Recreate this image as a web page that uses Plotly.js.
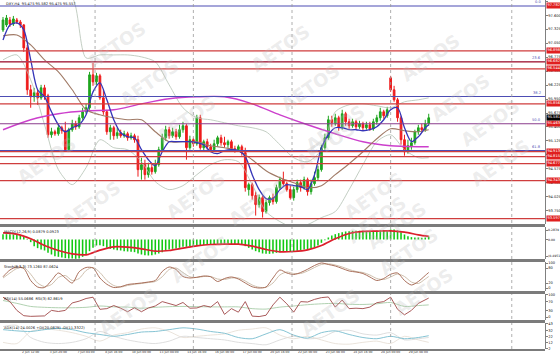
<!DOCTYPE html>
<html><head><meta charset="utf-8">
<script src="https://cdn.plot.ly/plotly-3.0.1.min.js"></script>
<style>html,body{margin:0;padding:0;background:#fff}#c{width:560px;height:357px}</style>
</head><body><div id="c"></div>
<script>
// ---------- DATA ----------
const title = "DXY,H4  95.475 95.582 95.475 95.557";
const openP = [97.310,97.409,97.507,97.428,97.507,97.468,97.409,96.957,96.132,95.994,
 96.073,95.974,96.171,96.014,95.247,95.306,95.267,95.385,95.326,94.953,
 95.346,95.463,95.404,95.581,95.699,95.778,96.426,96.289,96.407,95.974,
 95.699,95.306,95.385,95.228,95.287,95.228,95.267,95.188,95.228,95.149,
 94.560,94.658,94.462,94.599,94.520,94.658,94.953,95.188,95.346,95.228,
 95.306,95.208,95.346,95.424,94.992,95.149,95.070,95.581,94.992,95.110,
 95.011,94.953,95.070,95.188,95.090,95.051,95.110,94.972,94.953,95.011,
 94.894,94.167,94.265,94.049,93.872,94.009,93.734,93.911,94.009,93.931,
 94.206,94.363,94.284,94.167,94.009,94.167,94.304,94.206,94.363,94.127,
 94.284,94.403,94.560,94.992,95.188,95.542,95.463,95.581,95.385,95.660,
 95.503,95.424,95.503,95.404,95.463,95.385,95.444,95.365,95.503,95.581,
 95.699,95.621,96.367,96.132,95.935,95.581,95.149,94.913,95.011,95.090,
 95.306,95.385,95.346,95.463];
const highP = [97.566,97.605,97.566,97.586,97.546,97.507,97.428,97.016,96.230,96.171,
 96.132,96.230,96.230,96.053,95.385,95.346,95.463,95.424,95.503,95.385,
 95.542,95.522,95.640,95.778,95.856,96.485,96.662,96.466,96.446,96.132,
 95.739,95.444,95.424,95.385,95.346,95.326,95.306,95.287,95.267,95.228,
 94.795,94.756,94.697,94.677,94.756,95.011,95.267,95.424,95.404,95.385,
 95.365,95.444,95.503,95.463,95.228,95.188,95.640,95.640,95.149,95.169,
 95.070,95.149,95.228,95.247,95.208,95.149,95.149,95.031,95.051,95.051,
 94.992,94.304,94.304,94.127,94.069,94.049,93.970,94.049,94.088,94.265,
 94.422,94.520,94.324,94.245,94.226,94.363,94.363,94.422,94.403,94.363,
 94.520,94.638,95.051,95.267,95.621,95.621,95.660,95.621,95.739,95.699,
 95.562,95.562,95.542,95.522,95.503,95.503,95.503,95.562,95.640,95.778,
 95.739,95.797,96.407,96.210,95.974,95.621,95.247,95.149,95.188,95.346,
 95.444,95.463,95.542,95.660];
const lowP = [97.271,97.369,97.369,97.389,97.428,97.350,96.878,96.033,95.778,95.896,
 95.837,95.935,95.935,95.188,95.188,95.228,95.228,95.267,94.913,94.913,
 95.306,95.346,95.365,95.542,95.660,95.739,96.210,96.230,95.935,95.640,
 95.247,95.149,95.149,95.169,95.188,95.188,95.129,95.149,95.090,94.422,
 94.363,94.363,94.403,94.462,94.481,94.618,94.913,95.129,95.169,95.188,
 95.149,95.169,95.287,94.756,94.953,95.011,95.031,94.953,94.933,94.953,
 94.913,94.913,95.011,95.031,94.992,94.992,94.933,94.894,94.913,94.835,
 94.127,94.049,93.970,93.656,93.813,93.616,93.695,93.852,93.872,93.891,
 94.167,94.245,94.127,93.970,93.950,94.108,94.127,94.167,94.049,94.069,
 94.245,94.343,94.520,94.953,95.149,95.404,95.424,95.326,95.346,95.424,
 95.365,95.385,95.346,95.365,95.326,95.346,95.326,95.326,95.444,95.522,
 95.562,95.581,96.092,95.896,95.503,95.051,94.835,94.874,94.953,95.051,
 95.247,95.287,95.306,95.424];
const closeP = [97.507,97.546,97.428,97.527,97.468,97.409,96.957,96.132,95.994,96.073,
 95.974,96.171,96.014,95.247,95.306,95.267,95.385,95.326,94.953,95.346,
 95.463,95.404,95.581,95.699,95.778,96.426,96.289,96.407,95.974,95.699,
 95.306,95.385,95.228,95.287,95.228,95.267,95.188,95.228,95.149,94.560,
 94.658,94.462,94.599,94.520,94.658,94.953,95.188,95.346,95.228,95.306,
 95.208,95.346,95.424,94.992,95.149,95.070,95.581,94.992,95.110,95.011,
 94.953,95.070,95.188,95.090,95.051,95.110,94.972,94.953,95.011,94.894,
 94.206,94.265,94.049,93.872,94.009,93.734,93.911,94.009,93.931,94.206,
 94.363,94.284,94.167,94.009,94.167,94.304,94.206,94.363,94.127,94.284,
 94.403,94.560,94.992,95.188,95.542,95.463,95.581,95.385,95.660,95.503,
 95.424,95.503,95.404,95.463,95.385,95.444,95.365,95.503,95.581,95.699,
 95.621,95.739,96.132,95.935,95.581,95.149,94.913,95.031,95.090,95.306,
 95.385,95.346,95.463,95.581];

// sample bar positions of the indicator lines
const ev2 = [0,2,4,6,8,10,12,14,16,18,20,22,24,26,28,30,32,34,36,38,40,42,44,46,48,50,52,54,56,58,60,62,64,66,68,70,72,74,76,78,80,82,84,86,88,90,92,94,96,98,100,102,104,106,108,110,112,114,116,118,120,122,123];
const ev4 = [0,4,8,12,16,20,24,28,32,36,40,44,48,52,56,60,64,68,72,76,80,84,88,92,96,100,104,108,112,116,120,123];
const ev8 = [0,8,16,24,32,40,48,56,64,72,80,88,96,104,112,120,123];

const maFast = [97.114,97.409,97.448,97.311,96.721,96.132,95.994,95.699,95.444,95.306,
 95.385,95.444,95.640,96.092,96.269,95.935,95.542,95.287,95.208,95.188,
 94.953,94.756,94.638,94.913,95.110,95.110,95.110,95.110,95.090,95.051,
 94.913,94.874,94.933,94.953,94.933,94.815,94.461,94.167,93.990,93.990,
 94.167,94.265,94.245,94.226,94.167,94.461,94.992,95.247,95.385,95.385,
 95.346,95.346,95.326,95.346,95.404,95.542,95.739,95.778,95.385,95.110,
 95.208,95.385,95.444];
const maMid = [97.193,97.212,97.016,96.721,96.485,96.132,95.739,95.640,95.581,95.542,95.542,95.306,95.110,95.110,95.110,95.031,94.992,94.933,94.756,94.540,94.402,94.304,94.206,94.245,94.461,94.677,94.913,95.169,95.365,95.326,95.306,95.346];
const maSlow = [95.346,95.542,95.660,95.719,95.739,95.856,95.955,95.994,95.994,95.856,95.640,95.444,95.267,95.110,95.031,95.011,95.011];
const bbUpper = [98.097,98.057,97.998,97.998,97.959,97.939,96.760,96.819,96.819,96.819,96.780,96.682,96.230,95.778,95.581,95.542,95.483,95.424,95.385,95.306,95.051,94.795,94.717,94.953,95.699,95.837,95.856,95.817,95.778,95.896,95.935,95.974];
const bbLower = [96.721,96.819,96.328,95.444,94.560,94.265,94.599,95.149,94.992,94.953,94.717,94.324,94.167,94.245,94.461,94.658,94.756,94.717,94.265,93.734,93.538,93.420,93.479,93.616,93.734,94.167,94.658,95.110,95.247,94.953,94.795,94.795];

const redLevels = [96.898,96.682,96.544,95.856,94.913,94.815,94.677,94.343,93.597];
const fibNames = ["0.0","23.6","38.2","50.0","61.8"];
const fibLevels = [97.782,96.687,96.000,95.463,94.935];

const macdHist = [0.16,0.16,0.16,0.15,0.15,0.14,0.10,0.02,-0.08,
 -0.20,-0.26,-0.30,-0.33,-0.40,-0.45,-0.50,-0.52,-0.54,
 -0.56,-0.57,-0.57,-0.58,-0.57,-0.52,-0.45,-0.35,-0.25,-0.18,-0.17,
 -0.20,-0.25,-0.28,-0.30,-0.32,-0.33,-0.35,-0.36,-0.37,-0.38,
 -0.42,-0.45,-0.47,-0.48,-0.47,-0.45,
 -0.42,-0.38,-0.33,-0.30,-0.28,-0.27,-0.25,-0.22,-0.22,-0.20,
 -0.20,-0.18,-0.17,-0.17,-0.16,-0.16,-0.15,-0.14,-0.14,-0.13,-0.13,-0.14,-0.14,-0.15,
 -0.16,-0.20,-0.25,-0.30,-0.35,-0.38,-0.42,-0.43,-0.43,-0.42,-0.40,-0.38,
 -0.37,-0.36,-0.36,-0.35,-0.34,-0.32,-0.30,-0.29,-0.27,-0.24,
 -0.18,-0.10,-0.02,0.06,
 0.12,0.16,0.19,0.22,0.24,0.25,0.26,0.26,0.26,0.26,0.25,0.25,0.25,0.26,0.27,0.27,0.27,
 0.30,0.30,0.27,0.22,
 0.15,0.10,0.07,0.06,0.06,0.05,0.06,0.088];
const macdSignal = [0.20,0.16,0.02,-0.18,-0.33,-0.43,-0.46,-0.32,-0.22,-0.23,-0.28,-0.35,-0.33,-0.26,-0.19,-0.15,-0.14,-0.14,-0.20,-0.30,-0.37,-0.36,-0.31,-0.18,0.02,0.18,0.24,0.25,0.26,0.22,0.14,0.092];

const stochMain = [45,72,84,78,30,4,2,30,60,40, 20,65,82,80,40,15,2,5,14,17, 20,24,30,66,84,74,46,40,43,48, 45,26,38,44,36,20,5,0,4,40, 72,60,54,62,75,90,100,94,88,78, 68,64,58,44,30,38,55,60,30,12, 26,50,62];
const stochSig = [40,60,78,82,55,20,6,14,42,50, 30,38,70,82,62,30,10,4,10,15, 18,22,26,45,74,80,62,45,42,46, 46,36,34,40,40,28,12,3,3,20, 52,64,58,58,68,82,94,97,92,84, 74,66,62,52,38,34,44,56,46,24, 18,36,46];
const rsi3 = [90,70,30,6,3,3,5,30,25,30, 64,72,84,90,35,38,52,40,24,42, 24,41,50,70,62,52,66,40,41,52, 45,70,12,38,22,70,4,2,8,55, 90,60,22,70,68,80,88,91,45,77, 38,40,38,45,65,70,90,35,10,30, 62,80,86];
const rsi14 = [75,62,48,44,42,42,44,50,46,45,40,44,47,48,47,46,46,46,38,36,45,50,56,60,62,58,57,60,66,48,52,55];
const adx = [33,31,30,33,35,33,28,25,22,25,29,30,33,36,34,30,27,20,18,26,33,24,19,28,31,25,20,18,22,18,20,23];
const diPlus = [38,40,20,12,10,12,18,30,22,16,12,10,14,22,20,18,16,12,10,8,16,22,18,20,30,32,26,24,28,16,18,20];
const diMinus = [12,10,30,34,32,28,22,14,24,28,34,36,30,20,22,24,26,32,34,36,24,18,22,16,10,9,12,14,10,22,16,12];

const tickBars = [0,8,16,24,32,40,48,56,64,72,80,88,96,104,112,120];
const tickLabels = ["1 Jun 2016","2 Jun 12:00","3 Jun 20:00","7 Jun 04:00","8 Jun 16:00","10 Jun 00:00","13 Jun 08:00","14 Jun 16:00","16 Jun 00:00","17 Jun 08:00","20 Jun 16:00","22 Jun 00:00","23 Jun 08:00","24 Jun 16:00","28 Jun 00:00","29 Jun 08:00"];
const gridBars = [26.6,55,83.5,112,147];

const panelTitles = ["MACD(12,26,9) 0.0879 0.0923","Stoch(8,3,3) 73.1260 87.0624","RSI(14) 55.0686  RSI(3) 82.8619","ADX(14) 24.0026 +DI(20.0879) -DI(11.3322)"];

// ---------- LAYOUT GEOMETRY ----------
const idx = openP.map((_, i) => i);
const PH = 349; // plot height in px (t=0,b=8)
const fy = y => (PH - y) / PH;
const dom = {
  main:[fy(224),1], macd:[fy(259),fy(227)], stoch:[fy(291),fy(262)], rsi:[fy(320),fy(294)], adx:[0,fy(323)]
};
const sepPx = [[224,227],[259,262],[291,294],[320,323],[349,351]];
const wm = [[80,15],[113,52],[280,18],[310,57],[335,98],[467,27],[497,67],[527,123],[537,163],[10,160],[55,205],[195,195],[258,203],[325,115],[410,195],[433,225],[200,290],[413,250],[445,282],[460,322],[92,342],[330,343],[150,120]];

const FONT = 'DejaVu Sans, Arial, sans-serif';
const tf = {family:FONT, size:3.6, color:'#111'};

const traces = [];
traces.push({type:'candlestick', x:idx, open:openP, high:highP, low:lowP, close:closeP,
  xaxis:'x', yaxis:'y', whiskerwidth:0,
  increasing:{line:{color:'#1fa51f', width:1}, fillcolor:'#1fa51f'},
  decreasing:{line:{color:'#ee1c1c', width:1}, fillcolor:'#ee1c1c'}, hoverinfo:'skip'});
const ln = (x, y, ax, color, w, shape) => ({type:'scatter', mode:'lines', x, y, yaxis:ax, xaxis:'x',
  line:{color, width:w, shape:shape||'spline', smoothing:0.8}, hoverinfo:'skip'});
traces.push(ln(ev4, bbUpper, 'y', '#b4c2b4', 0.8));
traces.push(ln(ev4, bbLower, 'y', '#b4c2b4', 0.8));
traces.push(ln(ev8, maSlow, 'y', '#cc3fcc', 1.4));
traces.push(ln(ev4, maMid, 'y', '#a07a66', 1.1));
traces.push(ln(ev2, maFast, 'y', '#3535b8', 1.3));

traces.push({type:'bar', x:idx, y:macdHist, yaxis:'y2', xaxis:'x', width:0.45,
  marker:{color:'#12c812', line:{width:0}}, hoverinfo:'skip'});
traces.push(ln(ev4, macdSignal, 'y2', '#dd1f2c', 1.7));

traces.push(ln(ev2, stochSig, 'y3', '#c8b8a4', 0.9));
traces.push(ln(ev2, stochMain, 'y3', '#a0604a', 0.9));

traces.push(ln(ev4, rsi14, 'y4', '#a8cca8', 0.9));
traces.push(ln(ev2, rsi3, 'y4', '#a04848', 0.9, 'linear'));

traces.push(ln(ev4, diPlus, 'y5', '#d6d6d6', 0.8));
traces.push(ln(ev4, diMinus, 'y5', '#e4dcd2', 0.8));
traces.push(ln(ev4, adx, 'y5', '#86c4d4', 1.0));

const shapes = [];
fibLevels.forEach((v, k) => shapes.push({type:'line', xref:'paper', x0:0, x1:1, yref:'y', y0:v, y1:v,
  line:{color: k===3 ? '#8a3c8c' : '#4d4db4', width:1.1}}));
redLevels.forEach(v => shapes.push({type:'line', xref:'paper', x0:0, x1:1, yref:'y', y0:v, y1:v,
  line:{color:'#cf3d3d', width:1.3}}));
gridBars.forEach(b => shapes.push({type:'line', xref:'x', x0:b, x1:b, yref:'paper', y0:0, y1:1,
  line:{color:'#9a9a9a', width:0.8, dash:'dot'}}));
sepPx.forEach(s => shapes.push({type:'rect', xref:'paper', x0:0, x1:1, yref:'paper', y0:fy(s[1]), y1:fy(s[0]),
  fillcolor:'#7b7b7b', line:{width:0}}));

const ann = [];
wm.forEach(p => ann.push({xref:'paper', yref:'paper', x:p[0]/545, y:fy(p[1]), text:'AETOS', showarrow:false,
  textangle:-35, font:{family:FONT, size:18, color:'rgba(185,185,185,0.27)', weight:'bold'}}));
ann.push({xref:'paper', yref:'paper', x:0.008, y:1, xanchor:'left', yanchor:'top', text:title, showarrow:false, font:tf});
const tops = [dom.macd[1], dom.stoch[1], dom.rsi[1], dom.adx[1]];
panelTitles.forEach((t, k) => ann.push({xref:'paper', yref:'paper', x:0.004, y:tops[k]-0.003, xanchor:'left', yanchor:'top',
  text:t, showarrow:false, font:tf}));
fibLevels.forEach((v, k) => ann.push({xref:'paper', yref:'y', x:0.997, y:v, xanchor:'right', yanchor:'bottom',
  text:fibNames[k], showarrow:false, font:{family:FONT, size:3.6, color:'#4d4db4'}}));
const boxLevels = redLevels.concat([fibLevels[0], fibLevels[3]]);
boxLevels.forEach(v => ann.push({xref:'paper', yref:'y', x:1, y:v, xanchor:'left', yanchor:'middle', xshift:0.5,
  text:v.toFixed(3), showarrow:false, bgcolor:'#e01f1f', borderpad:0.4, font:{family:FONT, size:3.6, color:'#fff'}}));
const last = closeP[closeP.length - 1];
ann.push({xref:'paper', yref:'y', x:1, y:last, xanchor:'left', yanchor:'middle', xshift:0.5,
  text:last.toFixed(3), showarrow:false, bgcolor:'#000', borderpad:0.4, font:{family:FONT, size:3.6, color:'#fff'}});

const yBase = {side:'right', showgrid:false, zeroline:false, showline:true, linecolor:'#808080', linewidth:1,
  ticks:'outside', ticklen:1.5, tickcolor:'#808080', tickfont:tf, fixedrange:true};
const layout = {
  width:560, height:357, margin:{l:0, r:15, t:0, b:8}, paper_bgcolor:'#fff', plot_bgcolor:'#fff',
  showlegend:false, hovermode:false, font:{family:FONT, size:3.6, color:'#111'},
  xaxis:{domain:[0,1], range:[-0.87,156.6], anchor:'y5', tickvals:tickBars, ticktext:tickLabels,
    ticklabelshift:4.5, tickfont:{family:FONT, size:3, color:'#333'}, ticks:'', showgrid:false, zeroline:false,
    showline:false, rangeslider:{visible:false}},
  yaxis:Object.assign({}, yBase, {domain:dom.main, range:[93.49,97.90], tick0:93.475, dtick:0.275, tickformat:'.3f'}),
  yaxis2:Object.assign({}, yBase, {domain:dom.macd, range:[-0.585,0.374], tickvals:[0.2839,0,-0.4951],
    ticktext:['0.2839','0.00','(0.4951)'], tickfont:{family:FONT, size:3.1, color:'#111'}}),
  yaxis3:Object.assign({}, yBase, {domain:dom.stoch, range:[-12,104], tickvals:[100,80,20,0]}),
  yaxis4:Object.assign({}, yBase, {domain:dom.rsi, range:[-13.6,104.5], tickvals:[100,70,30,0]}),
  yaxis5:Object.assign({}, yBase, {domain:dom.adx, range:[1,44], tickvals:[43,32,22,12,2]}),
  shapes, annotations:ann
};
Plotly.newPlot('c', traces, layout, {staticPlot:true, displayModeBar:false});
</script></body></html>
